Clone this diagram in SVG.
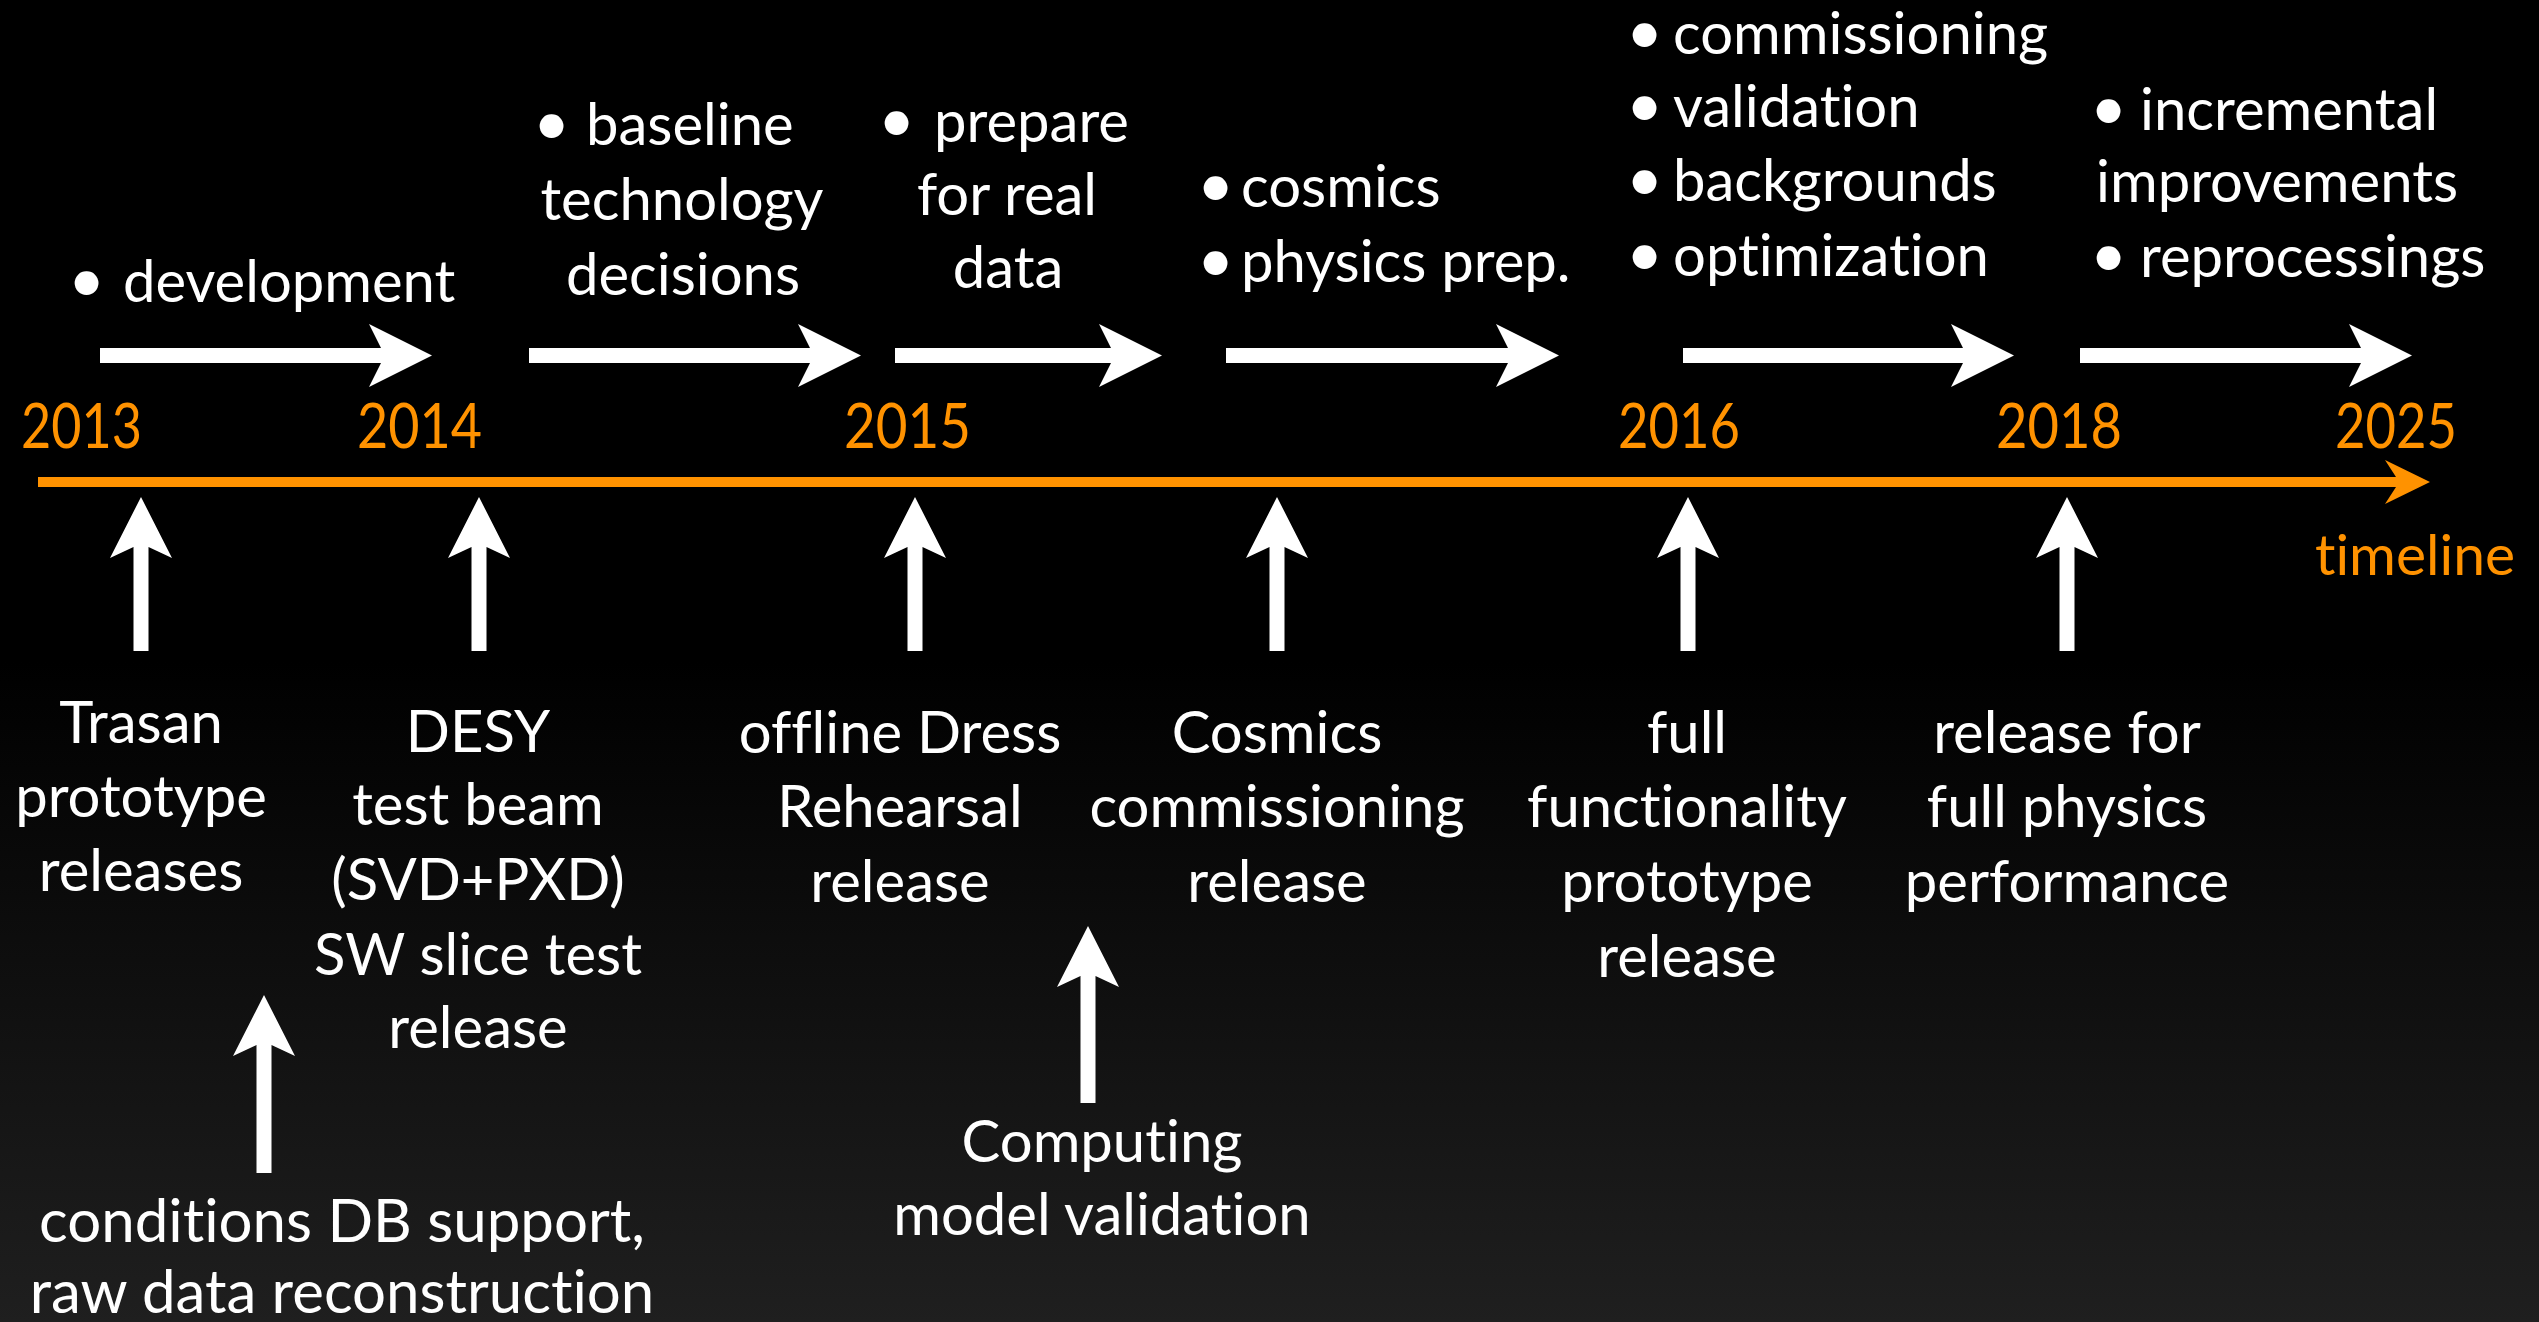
<svg xmlns="http://www.w3.org/2000/svg" width="2539" height="1322" viewBox="0 0 2539 1322">
  <defs>
    <linearGradient id="bg" x1="0" y1="0" x2="0" y2="1">
      <stop offset="0" stop-color="#000"/>
      <stop offset="0.5" stop-color="#000"/>
      <stop offset="1" stop-color="#1f1f1f"/>
    </linearGradient>
    <style>
      .t { font-family: Lato, "Open Sans", "Liberation Sans", sans-serif; font-size: 58px; fill: #fff; font-variant-ligatures: none; font-feature-settings: "liga" 0, "dlig" 0; }
      .c { text-anchor: middle; }
      .b { font-size: 64px; }
      .yr { font-family: Lato, "Open Sans", "Liberation Sans", sans-serif; font-size: 62px; fill: #ff9200; font-variant-ligatures: none; }
      .arrow { fill: #fff; }
      .axis { fill: #ff9200; }
    </style>
  </defs>

  <rect width="2539" height="1322" fill="url(#bg)"/>

  <!-- timeline axis with year marks -->
  <g id="timeline">
    <path class="axis" d="M38 477 H2396 L2385 460 L2430 482 L2385 504 L2396 487 H38 Z"/>
    <text class="yr" x="21" y="448" textLength="121" lengthAdjust="spacingAndGlyphs">2013</text>
    <text class="yr" x="357" y="448" textLength="125" lengthAdjust="spacingAndGlyphs">2014</text>
    <text class="yr" x="844" y="448" textLength="127" lengthAdjust="spacingAndGlyphs">2015</text>
    <text class="yr" x="1618" y="448" textLength="122" lengthAdjust="spacingAndGlyphs">2016</text>
    <text class="yr" x="1996" y="448" textLength="126" lengthAdjust="spacingAndGlyphs">2018</text>
    <text class="yr" x="2335" y="448" textLength="122" lengthAdjust="spacingAndGlyphs">2025</text>
    <text class="yr" x="2315" y="575" style="font-size:57px">timeline</text>
  </g>

  <!-- phase arrows and milestone arrows -->
  <g id="connectors">
    <path class="arrow" d="M100 348 H381 L369 324 L432 355.5 L369 387 L381 363 H100 Z"/>
    <path class="arrow" d="M529 348 H810 L798 324 L861 355.5 L798 387 L810 363 H529 Z"/>
    <path class="arrow" d="M895 348 H1111 L1099 324 L1162 355.5 L1099 387 L1111 363 H895 Z"/>
    <path class="arrow" d="M1226 348 H1508 L1496 324 L1559 355.5 L1496 387 L1508 363 H1226 Z"/>
    <path class="arrow" d="M1683 348 H1963 L1951 324 L2014 355.5 L1951 387 L1963 363 H1683 Z"/>
    <path class="arrow" d="M2080 348 H2361 L2349 324 L2412 355.5 L2349 387 L2361 363 H2080 Z"/>

    <path class="arrow" d="M133.5 651 V547 L110 558 L141 497 L172 558 L148.5 547 V651 Z"/>
    <path class="arrow" d="M471.5 651 V547 L448 558 L479 497 L510 558 L486.5 547 V651 Z"/>
    <path class="arrow" d="M907.5 651 V547 L884 558 L915 497 L946 558 L922.5 547 V651 Z"/>
    <path class="arrow" d="M1269.5 651 V547 L1246 558 L1277 497 L1308 558 L1284.5 547 V651 Z"/>
    <path class="arrow" d="M1680.5 651 V547 L1657 558 L1688 497 L1719 558 L1695.5 547 V651 Z"/>
    <path class="arrow" d="M2059.5 651 V547 L2036 558 L2067 497 L2098 558 L2074.5 547 V651 Z"/>

    <path class="arrow" d="M256.5 1173 V1045 L233 1056 L264 995 L295 1056 L271.5 1045 V1173 Z"/>
    <path class="arrow" d="M1080.5 1103 V976 L1057 987 L1088 926 L1119 987 L1095.5 976 V1103 Z"/>
  </g>

  <!-- phase descriptions above the axis -->
  <g id="phase-development">
    <text class="t" y="302"><tspan class="b" x="68">•</tspan><tspan x="123">development</tspan></text>
  </g>
  <g id="phase-baseline">
    <text class="t" y="145"><tspan class="b" x="533">•</tspan><tspan x="586">baseline</tspan></text>
    <text class="t c" x="682" y="220">technology</text>
    <text class="t c" x="683" y="295">decisions</text>
  </g>
  <g id="phase-prepare">
    <text class="t" y="142"><tspan class="b" x="878">•</tspan><tspan x="934">prepare</tspan></text>
    <text class="t c" x="1007" y="215">for real</text>
    <text class="t c" x="1008" y="288">data</text>
  </g>
  <g id="phase-cosmics">
    <text class="t" y="207"><tspan class="b" x="1197">•</tspan><tspan x="1241">cosmics</tspan></text>
    <text class="t" y="282"><tspan class="b" x="1197">•</tspan><tspan x="1241">physics prep.</tspan></text>
  </g>
  <g id="phase-commissioning">
    <text class="t" y="54"><tspan class="b" x="1626">•</tspan><tspan x="1673">commissioning</tspan></text>
    <text class="t" y="127"><tspan class="b" x="1626">•</tspan><tspan x="1673">validation</tspan></text>
    <text class="t" y="201"><tspan class="b" x="1626">•</tspan><tspan x="1673">backgrounds</tspan></text>
    <text class="t" y="276"><tspan class="b" x="1626">•</tspan><tspan x="1673">optimization</tspan></text>
  </g>
  <g id="phase-running">
    <text class="t" y="130"><tspan class="b" x="2090">•</tspan><tspan x="2140">incremental</tspan></text>
    <text class="t" x="2096" y="202">improvements</text>
    <text class="t" y="277"><tspan class="b" x="2090">•</tspan><tspan x="2140">reprocessings</tspan></text>
  </g>

  <!-- milestone releases below the axis -->
  <g id="release-trasan">
    <text class="t c" x="141" y="743">Trasan</text>
    <text class="t c" x="141" y="817">prototype</text>
    <text class="t c" x="141" y="891">releases</text>
  </g>
  <g id="release-desy">
    <text class="t c" x="478" y="752">DESY</text>
    <text class="t c" x="478" y="825">test beam</text>
    <text class="t c" x="478" y="900">(SVD+PXD)</text>
    <text class="t c" x="478" y="975">SW slice test</text>
    <text class="t c" x="478" y="1048">release</text>
  </g>
  <g id="release-conditions">
    <text class="t c" x="342" y="1242" style="font-size:60px">conditions DB support,</text>
    <text class="t c" x="342" y="1313" style="font-size:60px">raw data reconstruction</text>
  </g>
  <g id="release-dress-rehearsal">
    <text class="t c" x="900" y="753">offline Dress</text>
    <text class="t c" x="900" y="827">Rehearsal</text>
    <text class="t c" x="900" y="902">release</text>
  </g>
  <g id="release-computing">
    <text class="t c" x="1102" y="1162">Computing</text>
    <text class="t c" x="1102" y="1235">model validation</text>
  </g>
  <g id="release-cosmics">
    <text class="t c" x="1277" y="753">Cosmics</text>
    <text class="t c" x="1277" y="827">commissioning</text>
    <text class="t c" x="1277" y="902">release</text>
  </g>
  <g id="release-full-functionality">
    <text class="t c" x="1687" y="753">full</text>
    <text class="t c" x="1687" y="827">functionality</text>
    <text class="t c" x="1687" y="902">prototype</text>
    <text class="t c" x="1687" y="977">release</text>
  </g>
  <g id="release-physics">
    <text class="t c" x="2067" y="753">release for</text>
    <text class="t c" x="2067" y="827">full physics</text>
    <text class="t c" x="2067" y="902">performance</text>
  </g>
</svg>
